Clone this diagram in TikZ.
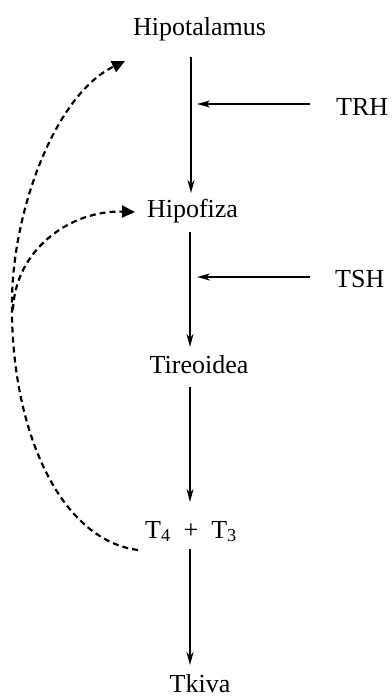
\documentclass[tikz,border=0pt]{standalone}
\usepackage{fontspec}
\setmainfont{Liberation Serif}
\usetikzlibrary{arrows.meta}
\begin{document}
\begin{tikzpicture}[x=1pt,y=-1pt,
  lbl/.style={inner sep=0pt,anchor=base,font=\fontsize{26}{30}\selectfont},
  flow/.style={line width=1.7pt,-{Stealth[length=13pt,width=7pt,inset=4pt]}},
  fb/.style={line width=2.2pt,dash pattern=on 6pt off 4pt,-{Triangle[length=13pt,width=12pt]}}]
\useasboundingbox (0,0) rectangle (391,698);
% labels
\node[lbl] (hipot) at (199.5,36) {Hipotalamus};
\node[lbl,anchor=base west] (trh) at (336,116) {TRH};
\node[lbl] (hipof) at (192.5,217) {Hipofiza};
\node[lbl,anchor=base west] (tsh) at (335,287) {TSH};
\node[lbl] (tir) at (199,373) {Tireoidea};
\node[lbl] (tt) at (191,538) {T\textsubscript{4}\enspace+\enspace T\textsubscript{3}};
\node[lbl] (tk) at (200,692) {Tkiva};
% anchor points for connectors
\coordinate (a1) at (191,57);  \coordinate (b1) at (191,193);
\coordinate (trhS) at (310,104);  \coordinate (trhE) at (197,104);
\coordinate (a2) at (190,232);  \coordinate (b2) at (190,347);
\coordinate (tshS) at (310,277);  \coordinate (tshE) at (197,277);
\coordinate (a3) at (190,387);  \coordinate (b3) at (190,502);
\coordinate (a4) at (190,549);  \coordinate (b4) at (190,665);
\coordinate (fbS) at (138,550);
\coordinate (fbM) at (12,300);
\coordinate (fbT1) at (125,61);
\coordinate (fbB) at (13,310);
\coordinate (fbT2) at (135,212);
% main chain
\draw[flow] (a1) -- (b1);
\draw[flow] (trhS) -- (trhE);
\draw[flow] (a2) -- (b2);
\draw[flow] (tshS) -- (tshE);
\draw[flow] (a3) -- (b3);
\draw[flow] (a4) -- (b4);
% feedback
\draw[fb] (fbS) .. controls (60,540) and (10,430) .. (fbM)
  .. controls (13,210) and (55,95) .. (fbT1);
\draw[fb] (fbB) .. controls (15,250) and (70,210) .. (fbT2);
\end{tikzpicture}
\end{document}
